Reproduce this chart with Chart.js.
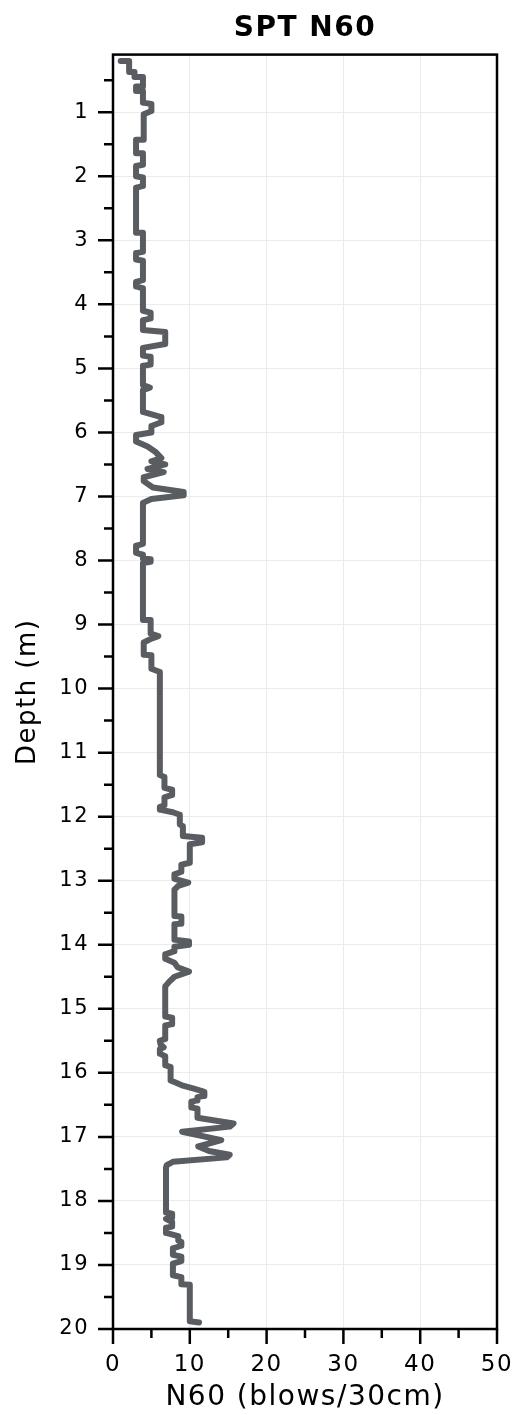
<!DOCTYPE html>
<html>
<head>
<meta charset="utf-8">
<script src="https://cdn.jsdelivr.net/npm/chart.js@4/dist/chart.umd.min.js"></script>
<style>
  html, body { margin: 0; padding: 0; background: #fff; }
  #wrap { width: 512px; height: 1415px; position: relative; }
</style>
</head>
<body>
<div id="wrap"><canvas id="sptChart"></canvas></div>
<script>
// ── SPT N60 depth profile ──

// depth (m) and N60 (blows/30cm), corner points of the profile, top to bottom
const depth = [
  0.20, 0.20, 0.37, 0.37, 0.45, 0.45, 0.60, 0.60, 0.67, 0.67, 0.85, 0.87, 0.98, 1.03,
  1.43, 1.43, 1.64, 1.64, 1.82, 1.84, 2.00, 2.02, 2.15, 2.18, 2.88, 2.88, 3.18, 3.20,
  3.30, 3.32, 3.62, 3.65, 3.72, 3.75,
  4.10, 4.13, 4.22, 4.25, 4.40, 4.43, 4.62, 4.68, 4.80, 4.82, 4.94, 4.96, 5.26, 5.30,
  5.34, 5.68, 5.76, 5.84, 5.90, 6.00, 6.04, 6.14, 6.22, 6.30, 6.40, 6.45, 6.50, 6.57,
  6.62, 6.70, 6.76, 6.86, 6.93, 6.98, 7.04, 7.10,
  7.74, 7.77, 7.88, 7.91, 7.97, 7.98, 8.02, 8.04, 8.93, 8.93, 9.14, 9.18, 9.22, 9.28,
  9.47, 9.48, 9.69, 9.74,
  11.35, 11.38, 11.55, 11.58, 11.66, 11.70, 11.82, 11.85, 11.89, 11.93, 11.97, 12.12,
  12.15, 12.30, 12.33, 12.40, 12.43, 12.72, 12.75, 12.86, 12.90, 12.97, 13.03, 13.08,
  13.14, 13.55, 13.56, 13.67, 13.68, 13.92, 13.95, 14.00, 14.03, 14.10, 14.15, 14.22,
  14.28, 14.35, 14.42, 14.50, 14.58, 14.65,
  15.12, 15.14, 15.24, 15.26, 15.47, 15.50, 15.56, 15.60, 15.63, 15.70, 15.74, 15.88,
  15.91, 16.12, 16.16, 16.20, 16.24, 16.28, 16.30, 16.36, 16.38, 16.43, 16.45, 16.54,
  16.56, 16.70, 16.79, 16.84, 16.92, 17.05, 17.15, 17.22, 17.28, 17.32, 17.39, 17.44,
  17.48, 18.18, 18.20, 18.26, 18.28, 18.33, 18.40, 18.42, 18.50, 18.55,
  18.62, 18.64, 18.70, 18.74, 18.84, 18.87, 18.94, 18.98, 19.16, 19.19, 19.30, 19.31,
  19.88, 19.90
];
const n60 = [
  1.0, 2.1, 2.1, 2.8, 2.8, 3.9, 3.9, 3.0, 3.0, 3.9, 3.9, 5.0, 5.0, 4.0,
  4.0, 3.0, 3.0, 3.9, 3.9, 3.0, 3.0, 3.9, 3.9, 3.0, 3.0, 3.9, 3.9, 3.0,
  3.0, 3.9, 3.9, 3.0, 3.0, 3.9,
  3.9, 4.9, 4.9, 3.9, 3.9, 6.8, 6.8, 3.9, 3.9, 4.9, 4.9, 3.9, 3.9, 4.8,
  3.9, 3.9, 6.3, 6.3, 5.0, 5.0, 3.0, 3.0, 4.5, 5.5, 6.3, 5.0, 6.8, 4.5,
  6.6, 4.0, 4.0, 5.2, 9.2, 9.2, 5.0, 3.9,
  3.9, 3.0, 3.0, 3.9, 3.9, 4.9, 4.9, 3.9, 3.9, 4.9, 4.9, 5.9, 5.0, 4.0,
  4.0, 5.0, 5.0, 6.1,
  6.1, 6.7, 6.7, 7.7, 7.7, 6.7, 6.7, 6.1, 6.1, 7.8, 8.7, 8.7,
  9.1, 9.1, 11.6, 11.6, 10.0, 10.0, 8.9, 8.9, 8.0, 8.0, 9.8, 8.5,
  8.0, 8.0, 8.9, 8.9, 8.0, 8.0, 9.9, 9.9, 8.0, 8.0, 6.8, 6.8,
  8.0, 8.4, 9.9, 8.0, 7.3, 6.8,
  6.8, 7.7, 7.7, 6.8, 6.8, 6.1, 6.2, 6.6, 6.1, 6.1, 6.8, 6.8,
  7.5, 7.5, 8.3, 9.1, 10.3, 11.5, 11.9, 11.9, 11.0, 11.0, 10.2, 10.2,
  11.0, 11.0, 15.7, 15.2, 9.0, 14.1, 11.1, 12.5, 15.2, 14.8, 7.8, 7.0,
  6.9, 6.9, 7.7, 7.7, 6.9, 7.7, 7.7, 6.9, 6.9, 8.5,
  8.5, 8.9, 8.9, 7.8, 7.8, 8.9, 8.9, 7.8, 7.8, 8.9, 8.9, 10.0,
  10.0, 11.2
];

// labelled ticks
const xMajor = [0, 10, 20, 30, 40, 50];
const yMajor = [1, 2, 3, 4, 5, 6, 7, 8, 9, 10, 11, 12, 13, 14, 15, 16, 17, 18, 19, 20];

const FONT  = 'DejaVu Sans';
const LINE  = '#595c61';
const GRID  = '#ebebeb';

// black frame + long/short tick marks outside the plot
const frameTicks = {
  id: 'frameTicks',
  beforeDraw(chart) {
    chart.ctx.letterSpacing = '1.5px';
  },
  afterDraw(chart) {
    const { ctx, chartArea: a, scales: { x, y } } = chart;
    ctx.save();
    ctx.strokeStyle = '#000';
    ctx.lineWidth = 2.5;
    ctx.beginPath();
    yMajor.forEach(v => {
      const p = y.getPixelForValue(v);
      ctx.moveTo(a.left - 15, p); ctx.lineTo(a.left, p);
      const q = y.getPixelForValue(v - 0.5);
      ctx.moveTo(a.left - 9, q); ctx.lineTo(a.left, q);
    });
    xMajor.forEach((v, i) => {
      const p = x.getPixelForValue(v);
      ctx.moveTo(p, a.bottom); ctx.lineTo(p, a.bottom + 15);
      if (i > 0) {
        const q = x.getPixelForValue(v - 5);
        ctx.moveTo(q, a.bottom); ctx.lineTo(q, a.bottom + 9);
      }
    });
    ctx.stroke();
    ctx.strokeRect(a.left, a.top, a.right - a.left, a.bottom - a.top);
    ctx.restore();
  }
};

const ctx = document.getElementById('sptChart').getContext('2d');
new Chart(ctx, {
  type: 'line',
  data: {
    datasets: [{
      data: depth.map((d, i) => ({ x: n60[i], y: d })),
      borderColor: LINE,
      borderWidth: 6,
      borderJoinStyle: 'round',
      borderCapStyle: 'round',
      pointRadius: 0,
      fill: false,
      tension: 0,
    }]
  },
  options: {
    responsive: true,
    maintainAspectRatio: false,
    animation: false,
    layout: { padding: { left: 0, right: 15, top: 0, bottom: 0 } },
    plugins: {
      legend: { display: false },
      tooltip: { enabled: false },
      title: {
        display: true,
        text: 'SPT N60',
        fullSize: false,
        color: '#000',
        font: { family: FONT, size: 28, weight: 'bold', lineHeight: 1.2 },
        padding: { top: 12, bottom: 9 },
      },
    },
    scales: {
      x: {
        type: 'linear',
        min: 0,
        max: 50,
        afterBuildTicks: s => { s.ticks = xMajor.map(v => ({ value: v })); },
        afterFit: s => { s.height = 86; s.paddingLeft = 0; s.paddingRight = 0; },
        border: { display: false },
        grid: { color: GRID, lineWidth: 1, drawTicks: false },
        ticks: { color: '#000', padding: 22, maxRotation: 0, font: { family: FONT, size: 23 } },
        title: {
          display: true,
          text: 'N60 (blows/30cm)',
          color: '#000',
          font: { family: FONT, size: 28, lineHeight: 1.1 },
          padding: { top: 0, bottom: 2 },
        },
      },
      y: {
        type: 'linear',
        reverse: true,
        min: 0.1,
        max: 20,
        afterBuildTicks: s => { s.ticks = yMajor.map(v => ({ value: v })); },
        afterFit: s => { s.width = 113; s.paddingTop = 0; s.paddingBottom = 0; },
        border: { display: false },
        grid: { color: GRID, lineWidth: 1, drawTicks: false },
        ticks: { color: '#000', padding: 24, font: { family: FONT, size: 21 } },
        title: {
          display: true,
          text: 'Depth (m)',
          color: '#000',
          font: { family: FONT, size: 26, lineHeight: 1.1 },
          padding: { top: 14, bottom: 0 },
        },
      },
    },
  },
  plugins: [frameTicks],
});
</script>
</body>
</html>
